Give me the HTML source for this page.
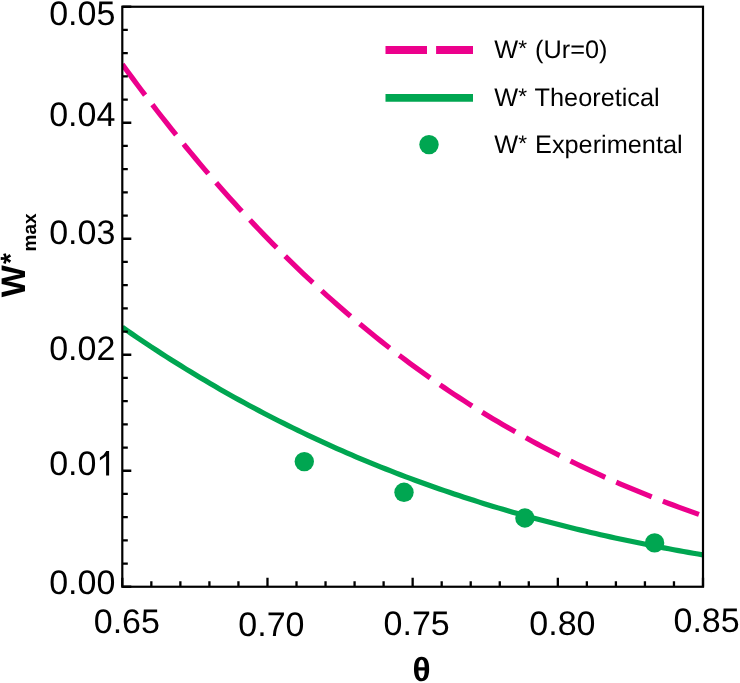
<!DOCTYPE html>
<html><head><meta charset="utf-8"><style>
html,body{margin:0;padding:0;background:#fff;}
svg{display:block;filter:blur(0.45px);}
text{text-rendering:geometricPrecision;}
.t{font-family:"Liberation Sans",sans-serif;font-size:34px;fill:#000;}
.l{font-family:"Liberation Sans",sans-serif;font-size:25.3px;fill:#000;}
.b{font-family:"Liberation Sans",sans-serif;font-weight:bold;fill:#000;}
</style></head><body>
<svg width="740" height="683" viewBox="0 0 740 683">
<defs><clipPath id="pc"><rect x="122.3" y="0" width="580.70" height="586.75"/></clipPath></defs>
<g clip-path="url(#pc)">
<path d="M122.30,64.26 L127.18,70.98 L132.06,77.63 L136.94,84.22 L141.82,90.75 L146.70,97.22 L151.58,103.62 L156.46,109.97 L161.34,116.25 L166.22,122.47 L171.10,128.63 L175.98,134.73 L180.86,140.77 L185.74,146.75 L190.62,152.67 L195.50,158.53 L200.38,164.33 L205.26,170.07 L210.14,175.76 L215.02,181.39 L219.90,186.96 L224.78,192.48 L229.66,197.94 L234.54,203.34 L239.42,208.69 L244.30,213.98 L249.18,219.22 L254.06,224.40 L258.94,229.53 L263.82,234.60 L268.69,239.62 L273.57,244.59 L278.45,249.50 L283.33,254.36 L288.21,259.17 L293.09,263.93 L297.97,268.64 L302.85,273.30 L307.73,277.90 L312.61,282.46 L317.49,286.96 L322.37,291.42 L327.25,295.82 L332.13,300.18 L337.01,304.49 L341.89,308.75 L346.77,312.96 L351.65,317.13 L356.53,321.25 L361.41,325.32 L366.29,329.35 L371.17,333.33 L376.05,337.26 L380.93,341.15 L385.81,344.99 L390.69,348.79 L395.57,352.55 L400.45,356.26 L405.33,359.93 L410.21,363.55 L415.09,367.13 L419.97,370.67 L424.85,374.17 L429.73,377.63 L434.61,381.04 L439.49,384.42 L444.37,387.75 L449.25,391.04 L454.13,394.30 L459.01,397.51 L463.89,400.69 L468.77,403.82 L473.65,406.92 L478.53,409.98 L483.41,413.00 L488.29,415.98 L493.17,418.93 L498.05,421.84 L502.93,424.72 L507.81,427.56 L512.69,430.36 L517.57,433.13 L522.45,435.86 L527.33,438.56 L532.21,441.22 L537.09,443.86 L541.97,446.45 L546.85,449.02 L551.73,451.55 L556.61,454.05 L561.48,456.52 L566.36,458.95 L571.24,461.36 L576.12,463.73 L581.00,466.08 L585.88,468.39 L590.76,470.67 L595.64,472.93 L600.52,475.15 L605.40,477.35 L610.28,479.52 L615.16,481.66 L620.04,483.77 L624.92,485.85 L629.80,487.91 L634.68,489.95 L639.56,491.95 L644.44,493.93 L649.32,495.89 L654.20,497.81 L659.08,499.72 L663.96,501.60 L668.84,503.46 L673.72,505.29 L678.60,507.10 L683.48,508.88 L688.36,510.65 L693.24,512.39 L698.12,514.11 L703.00,515.81" fill="none" stroke="#EC008C" stroke-width="5.2" stroke-dasharray="38.4 12"/>
<path d="M122.30,327.25 L127.18,330.63 L132.06,333.99 L136.94,337.31 L141.82,340.60 L146.70,343.86 L151.58,347.09 L156.46,350.29 L161.34,353.45 L166.22,356.59 L171.10,359.70 L175.98,362.78 L180.86,365.82 L185.74,368.84 L190.62,371.83 L195.50,374.79 L200.38,377.71 L205.26,380.61 L210.14,383.48 L215.02,386.33 L219.90,389.14 L224.78,391.93 L229.66,394.68 L234.54,397.41 L239.42,400.11 L244.30,402.79 L249.18,405.43 L254.06,408.05 L258.94,410.64 L263.82,413.20 L268.69,415.74 L273.57,418.25 L278.45,420.74 L283.33,423.19 L288.21,425.63 L293.09,428.03 L297.97,430.41 L302.85,432.77 L307.73,435.09 L312.61,437.40 L317.49,439.68 L322.37,441.93 L327.25,444.16 L332.13,446.36 L337.01,448.54 L341.89,450.70 L346.77,452.83 L351.65,454.93 L356.53,457.02 L361.41,459.08 L366.29,461.11 L371.17,463.13 L376.05,465.12 L380.93,467.08 L385.81,469.03 L390.69,470.95 L395.57,472.85 L400.45,474.73 L405.33,476.58 L410.21,478.41 L415.09,480.23 L419.97,482.02 L424.85,483.78 L429.73,485.53 L434.61,487.26 L439.49,488.96 L444.37,490.65 L449.25,492.31 L454.13,493.96 L459.01,495.58 L463.89,497.19 L468.77,498.77 L473.65,500.33 L478.53,501.88 L483.41,503.40 L488.29,504.91 L493.17,506.40 L498.05,507.87 L502.93,509.32 L507.81,510.75 L512.69,512.16 L517.57,513.56 L522.45,514.94 L527.33,516.30 L532.21,517.64 L537.09,518.96 L541.97,520.27 L546.85,521.56 L551.73,522.84 L556.61,524.09 L561.48,525.33 L566.36,526.56 L571.24,527.76 L576.12,528.96 L581.00,530.13 L585.88,531.29 L590.76,532.44 L595.64,533.57 L600.52,534.68 L605.40,535.78 L610.28,536.86 L615.16,537.93 L620.04,538.99 L624.92,540.03 L629.80,541.06 L634.68,542.07 L639.56,543.07 L644.44,544.05 L649.32,545.03 L654.20,545.98 L659.08,546.93 L663.96,547.86 L668.84,548.78 L673.72,549.69 L678.60,550.58 L683.48,551.47 L688.36,552.34 L693.24,553.20 L698.12,554.04 L703.00,554.88" fill="none" stroke="#00A651" stroke-width="5.2"/>
</g>
<circle cx="304.3" cy="461.6" r="9.7" fill="#00A651"/>
<circle cx="404" cy="492.3" r="9.7" fill="#00A651"/>
<circle cx="524.9" cy="518.0" r="9.7" fill="#00A651"/>
<circle cx="654.6" cy="542.9" r="9.7" fill="#00A651"/>
<path d="M122.30,586.75 H131.30 M122.30,563.55 H127.80 M122.30,540.35 H127.80 M122.30,517.15 H127.80 M122.30,493.95 H127.80 M122.30,470.75 H131.30 M122.30,447.55 H127.80 M122.30,424.35 H127.80 M122.30,401.15 H127.80 M122.30,377.95 H127.80 M122.30,354.75 H131.30 M122.30,331.55 H127.80 M122.30,308.35 H127.80 M122.30,285.15 H127.80 M122.30,261.95 H127.80 M122.30,238.75 H131.30 M122.30,215.55 H127.80 M122.30,192.35 H127.80 M122.30,169.15 H127.80 M122.30,145.95 H127.80 M122.30,122.75 H131.30 M122.30,99.55 H127.80 M122.30,76.35 H127.80 M122.30,53.15 H127.80 M122.30,29.95 H127.80 M122.30,6.75 H131.30 M122.30,586.75 V577.75 M151.34,586.75 V581.15 M180.37,586.75 V581.15 M209.41,586.75 V581.15 M238.44,586.75 V581.15 M267.48,586.75 V577.75 M296.51,586.75 V581.15 M325.54,586.75 V581.15 M354.58,586.75 V581.15 M383.61,586.75 V581.15 M412.65,586.75 V577.75 M441.69,586.75 V581.15 M470.72,586.75 V581.15 M499.76,586.75 V581.15 M528.79,586.75 V581.15 M557.83,586.75 V577.75 M586.86,586.75 V581.15 M615.90,586.75 V581.15 M644.93,586.75 V581.15 M673.97,586.75 V581.15 M703.00,586.75 V577.75" stroke="#000" stroke-width="2.3" fill="none"/>
<rect x="122.3" y="6.75" width="580.70" height="580.00" fill="none" stroke="#000" stroke-width="2.2"/>
<text x="49.2" y="25.0" class="t">0.05</text>
<text x="49.2" y="126.25" class="t">0.04</text>
<text x="49.2" y="243.85" class="t">0.03</text>
<text x="49.2" y="359.9" class="t">0.02</text>
<text x="49.2" y="475.45" class="t">0.0</text>
<path d="M109.1,451.1 V475.45 H106.1 V455.9 L99.9,460.5 V457.5 Q104.2,455.2 106.3,451.1 Z" fill="#000"/>
<text x="49.2" y="593.6" class="t">0.00</text>
<text x="93.77" y="632.80" class="t">0.65</text>
<text x="238.37" y="636.25" class="t">0.70</text>
<text x="383.57" y="634.55" class="t">0.75</text>
<text x="529.37" y="635.45" class="t">0.80</text>
<text x="673.47" y="631.75" class="t">0.85</text>
<path d="M385.5,50 H427 M436.1,50 H473" stroke="#EC008C" stroke-width="7.8"/>
<path d="M385.5,97.9 H473" stroke="#00A651" stroke-width="7.8"/>
<circle cx="429" cy="144.6" r="9.7" fill="#00A651"/>
<text x="494.25" y="57.9" class="l">W<tspan style="font-size:22.7px" dy="-1.5">*</tspan><tspan dy="1.5" dx="1.0"> (Ur=0)</tspan></text>
<text x="494.25" y="105.9" class="l">W<tspan style="font-size:22.7px" dy="-1.5">*</tspan><tspan dy="1.5" dx="1.0"> Theoretical</tspan></text>
<text x="494.25" y="152.75" class="l">W<tspan style="font-size:22.7px" dy="-1.5">*</tspan><tspan dy="1.5" dx="1.0"> Experimental</tspan></text>
<text x="412.4" y="681.1" class="b" style="font-size:33.5px">&#952;</text>
<g transform="translate(25.2,297.2) rotate(-90)"><text x="0" y="0" class="b" style="font-size:34px">W</text></g>
<g transform="translate(20.4,264.1) rotate(-90)"><text x="0" y="0" class="b" style="font-size:28px">*</text></g>
<g transform="translate(36.4,251.45) rotate(-90)"><text x="0" y="0" class="b" style="font-size:19px">max</text></g>
</svg>
</body></html>
